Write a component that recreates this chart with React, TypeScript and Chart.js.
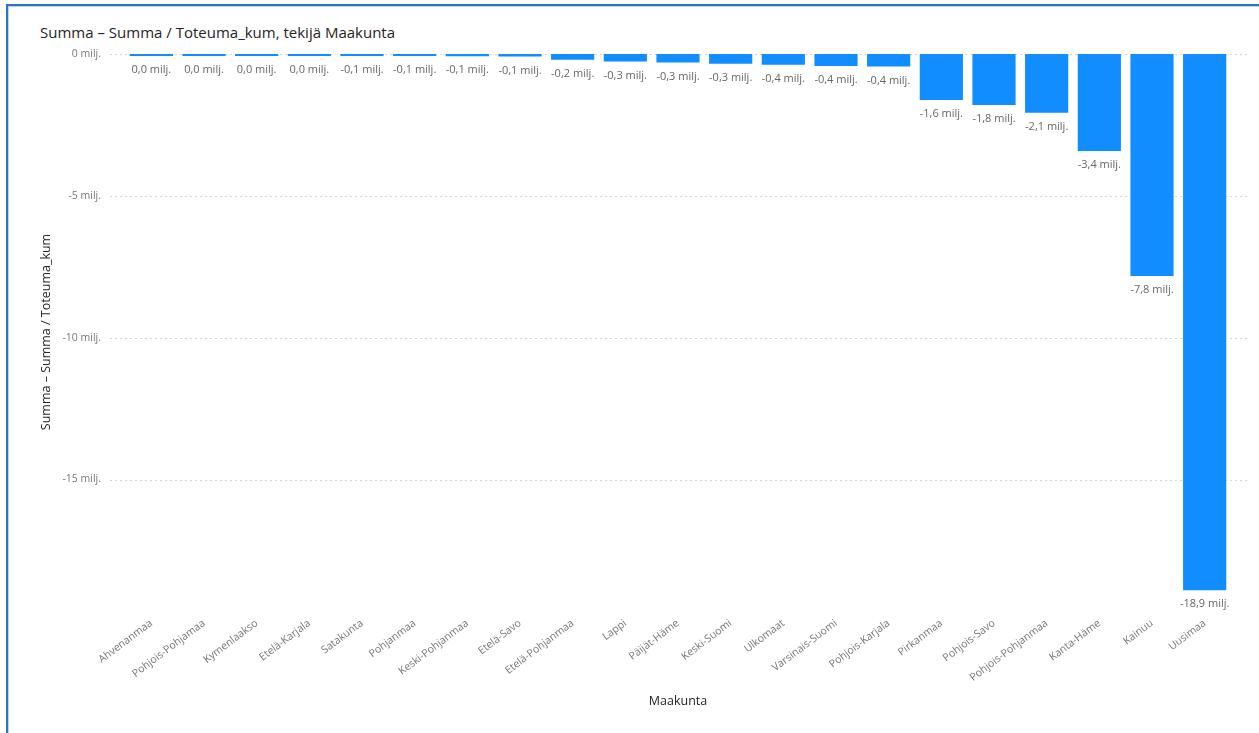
import React, { useEffect, useRef } from "react";
import { Chart, registerables } from "chart.js";

Chart.register(...registerables);

const CATEGORIES: string[] = [
  "Ahvenanmaa", "Pohjois-Pohjamaa", "Kymenlaakso", "Etelä-Karjala", "Satakunta",
  "Pohjanmaa", "Keski-Pohjanmaa", "Etelä-Savo", "Etelä-Pohjanmaa", "Lappi",
  "Päijät-Häme", "Keski-Suomi", "Ulkomaat", "Varsinais-Suomi", "Pohjois-Karjala",
  "Pirkanmaa", "Pohjois-Savo", "Pohjois-Pohjanmaa", "Kanta-Häme", "Kainuu", "Uusimaa",
];

// values in millions
const VALUES: number[] = [
  -0.01, -0.01, -0.02, -0.03, -0.06,
  -0.07, -0.08, -0.09, -0.2, -0.26,
  -0.3, -0.34, -0.38, -0.42, -0.44,
  -1.62, -1.8, -2.07, -3.42, -7.83, -18.9,
];

const Y_TICKS: number[] = [0, -5, -10, -15];
const Y_MIN = -19.6;
const Y_MAX = 0;

const TITLE = "Summa – Summa / Toteuma_kum, tekijä Maakunta";
const Y_TITLE = "Summa – Summa / Toteuma_kum";
const X_TITLE = "Maakunta";

const FONT = "'Open Sans', 'Noto Sans', sans-serif";
const BAR_COLOR = "#118DFF";

function fmt(v: number): string {
  const r = Math.round(v * 10) / 10;
  if (Math.abs(r) < 0.05) return "0,0 milj.";
  return r.toFixed(1).replace(".", ",") + " milj.";
}

const gridPlugin = {
  id: "pbiGrid",
  beforeDatasetsDraw(chart: any) {
    const { ctx, chartArea, scales } = chart;
    const y = scales.y;
    ctx.save();
    ctx.strokeStyle = "#d6d6d6";
    ctx.lineWidth = 1;
    ctx.setLineDash([2, 3]);
    for (const t of y.ticks) {
      const py = Math.round(y.getPixelForValue(t.value)) + 0.5;
      ctx.beginPath();
      ctx.moveTo(chartArea.left - 15, py);
      ctx.lineTo(chartArea.right + 17, py);
      ctx.stroke();
    }
    ctx.restore();
  },
};

const labelPlugin = {
  id: "pbiLabels",
  afterDatasetsDraw(chart: any) {
    const { ctx } = chart;
    const meta = chart.getDatasetMeta(0);
    const data = chart.data.datasets[0].data as number[];
    ctx.save();
    ctx.font = `11px ${FONT}`;
    ctx.fillStyle = "#666666";
    ctx.textAlign = "center";
    ctx.textBaseline = "middle";
    meta.data.forEach((bar: any, i: number) => {
      const bottom = Math.max(bar.y, bar.base);
      ctx.fillText(fmt(data[i]), bar.x, bottom + 14);
    });
    ctx.restore();
  },
};

export default function App() {
  const ref = useRef<HTMLCanvasElement | null>(null);

  useEffect(() => {
    if (!ref.current) return;
    const chart = new Chart(ref.current, {
      type: "bar",
      data: {
        labels: CATEGORIES,
        datasets: [
          {
            data: VALUES,
            backgroundColor: BAR_COLOR,
            borderWidth: 0,
            minBarLength: 2,
            barPercentage: 0.82,
            categoryPercentage: 1,
          },
        ],
      },
      options: {
        animation: false,
        responsive: false,
        maintainAspectRatio: false,
        layout: { padding: { left: 35, right: 28, top: 54, bottom: 20 } },
        plugins: {
          legend: { display: false },
          tooltip: { enabled: false },
          title: { display: false },
        },
        scales: {
          x: {
            type: "category",
            offset: true,
            grid: { display: false, drawTicks: false },
            border: { display: false },
            ticks: {
              autoSkip: false,
              minRotation: 37,
              maxRotation: 37,
              color: "#777777",
              padding: 7,
              font: { family: FONT, size: 10.5 },
            },
            title: {
              display: true,
              text: X_TITLE,
              color: "#252423",
              font: { family: FONT, size: 12.5 },
              padding: 4,
            },
            afterFit(scale: any) {
              scale.height = 103;
            },
          },
          y: {
            type: "linear",
            min: Y_MIN,
            max: Y_MAX,
            grid: { display: false, drawTicks: false },
            border: { display: false },
            afterBuildTicks(scale: any) {
              scale.ticks = Y_TICKS.map((v) => ({ value: v }));
            },
            ticks: {
              color: "#777777",
              padding: 24,
              font: { family: FONT, size: 10.5 },
              callback: (v: any) => `${v} milj.`,
            },
            title: {
              display: true,
              text: Y_TITLE,
              color: "#252423",
              font: { family: FONT, size: 12.5 },
              padding: 4,
            },
            afterFit(scale: any) {
              scale.width = 90;
            },
          },
        },
      },
      plugins: [gridPlugin, labelPlugin],
    });
    return () => chart.destroy();
  }, []);

  return (
    <div
      style={{
        position: "fixed",
        left: 0,
        top: 0,
        width: 1259,
        height: 733,
        background: "#ffffff",
        overflow: "hidden",
      }}
    >
      <div
        style={{
          position: "absolute",
          left: 6,
          top: 4,
          width: 1270,
          height: 760,
          borderLeft: "2px solid #2f72c0",
          borderTop: "2px solid #2f72c0",
          boxShadow: "inset 1px 1px 0 #bcd3ee",
        }}
      />
      <div
        style={{
          position: "absolute",
          left: 40,
          top: 22,
          fontFamily: FONT,
          fontSize: 15,
          color: "#252423",
          whiteSpace: "nowrap",
        }}
      >
        {TITLE}
      </div>
      <canvas
        ref={ref}
        width={1259}
        height={733}
        style={{ position: "absolute", left: 0, top: 0, width: 1259, height: 733 }}
      />
    </div>
  );
}
